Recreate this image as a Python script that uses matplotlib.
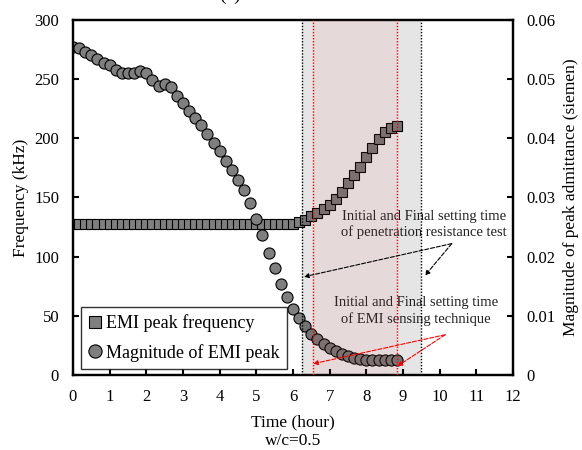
import numpy as np
import matplotlib
matplotlib.use("Agg")
import matplotlib.pyplot as plt
from matplotlib.lines import Line2D

plt.rcParams['font.family'] = ['Liberation Serif', 'DejaVu Serif']

# readings every 10 minutes
time_h = np.arange(54) / 6.0

freq_khz = [128, 128, 128, 128, 128, 128, 128, 128, 128, 128,
            128, 128, 128, 128, 128, 128, 128, 128, 128, 128,
            128, 128, 128, 128, 128, 128, 128, 128, 128, 128,
            128, 128, 128, 128, 128, 128, 128, 129, 131, 134,
            137, 140, 144, 149, 155, 162, 169, 176, 184, 192,
            199, 205, 209, 210]

mag_siemen = [0.0554, 0.0552, 0.0546, 0.0540, 0.0534, 0.0528, 0.0524, 0.0516, 0.0510, 0.0510,
              0.0510, 0.0513, 0.0511, 0.0498, 0.0488, 0.0492, 0.0486, 0.0472, 0.0459, 0.0446,
              0.0435, 0.0423, 0.0408, 0.0392, 0.0378, 0.0362, 0.0347, 0.0330, 0.0312, 0.0290,
              0.0264, 0.0236, 0.0207, 0.0180, 0.0153, 0.0132, 0.0112, 0.0096, 0.0082, 0.0070,
              0.0060, 0.0052, 0.0045, 0.0040, 0.0035, 0.0032, 0.0029, 0.0027, 0.0026, 0.0025,
              0.0025, 0.0025, 0.0025, 0.0025]

pen_setting = [6.25, 9.5]    # penetration resistance test
emi_setting = [6.55, 8.85]   # EMI sensing technique


def main():
    fig = plt.figure(figsize=(5.82, 4.5), dpi=100)
    ax1 = fig.add_axes([0.1254, 0.1667, 0.7560, 0.7889])
    ax2 = ax1.twinx()

    ax1.plot(time_h, freq_khz, ls='none', marker='s', ms=7.5, mfc='#7f7f7f',
             mec='black', mew=0.8)
    ax2.plot(time_h, mag_siemen, ls='none', marker='o', ms=8, mfc='#7f7f7f',
             mec='black', mew=0.8)

    # shaded setting-time windows on top of the markers
    ax2.axvspan(pen_setting[0], pen_setting[1], color='black', alpha=0.1, lw=0, zorder=3)
    ax2.axvspan(emi_setting[0], emi_setting[1], color=(0.9, 0.4, 0.4), alpha=0.09, lw=0, zorder=3)
    for x in pen_setting:
        ax2.axvline(x, color='black', ls=(0, (1, 1.2)), lw=1.0, zorder=4)
    for x in emi_setting:
        ax2.axvline(x, color='red', ls=(0, (1, 1.2)), lw=1.0, zorder=4)

    ax1.set_xlim(0, 12)
    ax1.set_ylim(0, 300)
    ax2.set_ylim(0, 0.06)
    ax1.set_xticks(range(13))
    ax1.set_yticks([0, 50, 100, 150, 200, 250, 300])
    ax2.set_yticks([0, 0.01, 0.02, 0.03, 0.04, 0.05, 0.06])
    ax2.set_yticklabels(['0', '0.01', '0.02', '0.03', '0.04', '0.05', '0.06'])

    ax1.tick_params(axis='x', direction='in', length=4.5, width=1.5, labelsize=12, pad=10)
    ax1.tick_params(axis='y', direction='in', length=4, width=1.5, labelsize=12, pad=10)
    ax2.tick_params(axis='y', direction='in', length=4, width=1.5, labelsize=12, pad=10)
    for ax in (ax1, ax2):
        for sp in ax.spines.values():
            sp.set_linewidth(1.6)

    ax1.set_xlabel('Time (hour)\nw/c=0.5', fontsize=12.5, labelpad=7, linespacing=1.2)
    ax1.set_ylabel('Frequency (kHz)', fontsize=12.5, labelpad=4)
    ax2.set_ylabel('Magnitude of peak admittance (siemen)', fontsize=12.5, labelpad=5)

    # annotations
    ax1.text(9.57, 127, 'Initial and Final setting time\nof penetration resistance test',
             ha='center', va='center', fontsize=10.5, color='#222222', zorder=6,
             linespacing=1.25)
    for hx, hy in [(6.3, 83), (9.6, 84)]:
        ax2.annotate('', xy=(hx, hy / 5000), xytext=(10.33, 111 / 5000),
                     arrowprops=dict(arrowstyle='-|>', color='black', lw=0.8,
                                     ls='--', mutation_scale=7, shrinkA=0, shrinkB=0),
                     zorder=6)
    ax1.text(9.35, 54, 'Initial and Final setting time\nof EMI sensing technique',
             ha='center', va='center', fontsize=10.5, color='#222222', zorder=6,
             linespacing=1.25)
    for hx, hy in [(6.55, 9.5), (8.85, 7.5)]:
        ax2.annotate('', xy=(hx, hy / 5000), xytext=(10.15, 34 / 5000),
                     arrowprops=dict(arrowstyle='-|>', color='red', lw=0.8,
                                     ls='--', mutation_scale=7, shrinkA=0, shrinkB=0),
                     zorder=6)

    handles = [Line2D([], [], ls='none', marker='s', ms=9, mfc='#7f7f7f', mec='black', mew=0.8),
               Line2D([], [], ls='none', marker='o', ms=9.5, mfc='#7f7f7f', mec='black', mew=0.8)]
    leg = ax2.legend(handles, ['EMI peak frequency', 'Magnitude of EMI peak'],
                     loc='lower left', bbox_to_anchor=(0.018, 0.017), borderaxespad=0,
                     fontsize=13, frameon=True, fancybox=False, handlelength=0.8,
                     handletextpad=0.2, borderpad=0.4, labelspacing=0.65)
    leg.get_frame().set_edgecolor('black')
    leg.get_frame().set_linewidth(1.0)
    leg.set_zorder(10)

    # panel title, mostly outside the top edge as in the original
    fig.text(0.395, 1.0, '(a)', ha='center', va='baseline', fontsize=14)

    fig.savefig('out.png', dpi=100)


if __name__ == "__main__":
    main()
